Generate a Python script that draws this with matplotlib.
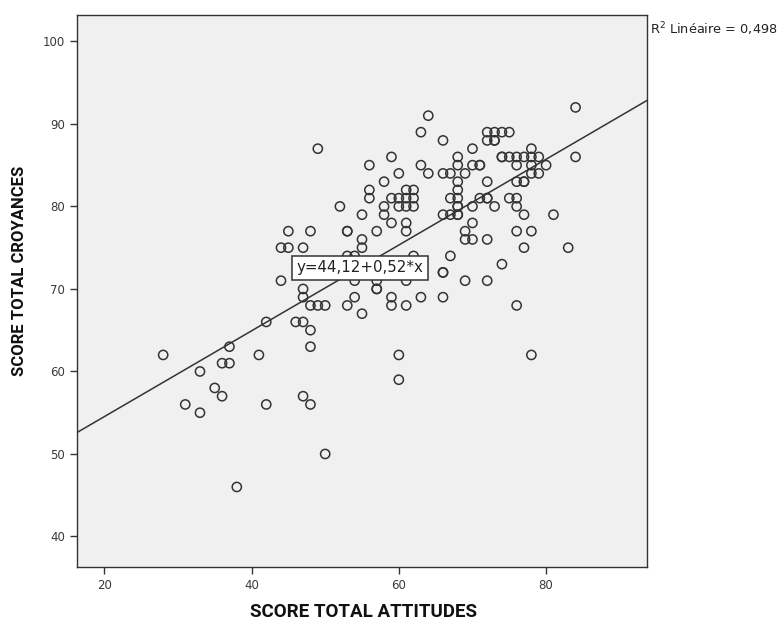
import matplotlib
matplotlib.use("Agg")
import matplotlib.pyplot as plt
import numpy as np

# ---- data ----
rows = {
    92: [84],
    91: [64],
    89: [63, 72, 73, 74, 75],
    88: [66, 72, 73, 73],
    87: [49, 70, 78],
    86: [59, 68, 74, 74, 75, 76, 77, 78, 79, 84],
    85: [56, 63, 68, 70, 71, 71, 76, 78, 80],
    84: [60, 64, 66, 67, 69, 78, 79],
    83: [58, 68, 72, 76, 77, 77],
    82: [56, 61, 62, 68],
    81: [56, 59, 60, 61, 62, 67, 68, 71, 72, 72, 75, 76],
    80: [52, 58, 60, 61, 62, 68, 68, 70, 73, 76],
    79: [55, 58, 66, 67, 68, 68, 77, 81],
    78: [59, 61, 70],
    77: [45, 48, 53, 53, 57, 61, 69, 76, 78],
    76: [55, 69, 70, 72],
    75: [44, 45, 47, 55, 77, 83],
    74: [53, 54, 62, 67],
    73: [74],
    72: [66, 66],
    71: [44, 54, 57, 61, 69, 72],
    70: [47, 57, 57],
    69: [47, 54, 59, 63, 66],
    68: [48, 49, 50, 53, 59, 61, 76],
    67: [55],
    66: [42, 46, 47],
    65: [48],
    63: [37, 48],
    62: [28, 41, 60, 78],
    61: [36, 37],
    60: [33],
    59: [60],
    58: [35],
    57: [36, 47],
    56: [31, 42, 48],
    55: [33],
    50: [50],
    46: [38],
}
attitudes = [x for y, xs in rows.items() for x in xs]
croyances = [y for y, xs in rows.items() for x in xs]

intercept = 44.12
slope = 0.52
r2_label = "0,498"
eq_label = "y=44,12+0,52*x"

x_ticks = [20, 40, 60, 80]
y_ticks = [40, 50, 60, 70, 80, 90, 100]
x_title = "SCORE TOTAL ATTITUDES"
y_title = "SCORE TOTAL CROYANCES"

W, H = 780, 622
# ---- figure ----
fig = plt.figure(figsize=(W/100, H/100), dpi=100)
ax = fig.add_axes([77/W, 1 - 567/H, (647-77)/W, (567-15)/H])
ax.set_facecolor("#f0f0f0")

ax.scatter(attitudes, croyances, s=44, facecolors="none",
           edgecolors="#333333", linewidths=1.1, zorder=3)

xlim = (16.3, 93.7)
ylim = (36.3, 103.2)
ax.set_xlim(*xlim)
ax.set_ylim(*ylim)

xl = np.array(xlim)
ax.plot(xl, intercept + slope * xl, color="#333333", lw=1.1, zorder=2)

ax.text(54.7, 72.55, eq_label, ha="center", va="center", fontsize=10.8,
        color="#222222", zorder=5,
        bbox=dict(boxstyle="square,pad=0.3", facecolor="white",
                  edgecolor="#333333", linewidth=1.1))

ax.set_xticks(x_ticks)
ax.set_yticks(y_ticks)
ax.tick_params(axis="both", direction="out", length=5, width=1,
               color="#333333", labelsize=8.5, labelcolor="#3a3a3a")
for s in ax.spines.values():
    s.set_color("#333333")
    s.set_linewidth(1.0)

fig.text(363/W, 1 - 612/H, x_title, family="Roboto", fontweight="bold",
         fontsize=13.5, color="#111111", ha="center", va="center")
fig.text(20/W, 1 - 271/H, y_title, family="Roboto", fontweight="bold",
         fontsize=12, color="#111111", ha="center", va="center", rotation=90)

fig.text(650/W, 1 - 29/H, r"$\mathregular{R^2}$ Linéaire = " + r2_label,
         fontsize=9.3, color="#222222", ha="left", va="center")

fig.savefig("out.png", dpi=100)
